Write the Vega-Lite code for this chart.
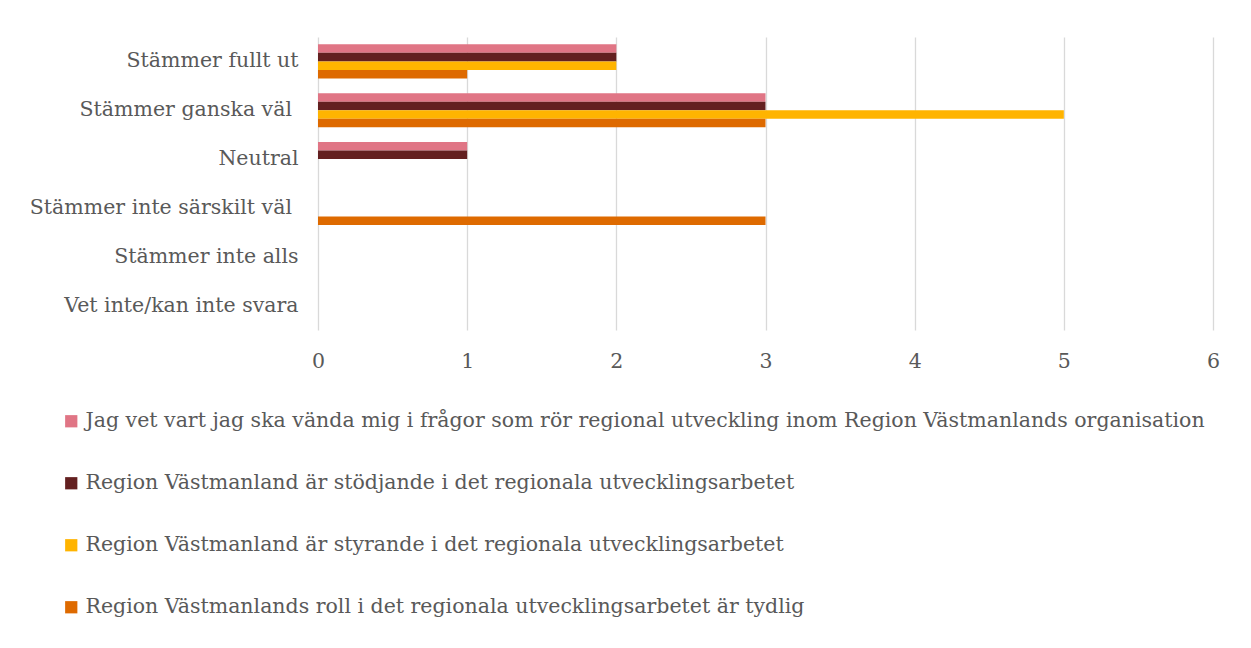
{
  "$schema": "https://vega.github.io/schema/vega-lite/v6.json",
  "autosize": "none",
  "width": 895,
  "height": 293,
  "padding": {"left": 318, "top": 37, "right": 38, "bottom": 318},
  "background": "white",
  "data": {
    "values": [
      {"svar": "Stämmer fullt ut", "serie": "Jag vet vart jag ska vända mig i frågor som rör regional utveckling inom Region Västmanlands organisation", "antal": 2},
      {"svar": "Stämmer fullt ut", "serie": "Region Västmanland är stödjande i det regionala utvecklingsarbetet", "antal": 2},
      {"svar": "Stämmer fullt ut", "serie": "Region Västmanland är styrande i det regionala utvecklingsarbetet", "antal": 2},
      {"svar": "Stämmer fullt ut", "serie": "Region Västmanlands roll i det regionala utvecklingsarbetet är tydlig", "antal": 1},
      {"svar": "Stämmer ganska väl ", "serie": "Jag vet vart jag ska vända mig i frågor som rör regional utveckling inom Region Västmanlands organisation", "antal": 3},
      {"svar": "Stämmer ganska väl ", "serie": "Region Västmanland är stödjande i det regionala utvecklingsarbetet", "antal": 3},
      {"svar": "Stämmer ganska väl ", "serie": "Region Västmanland är styrande i det regionala utvecklingsarbetet", "antal": 5},
      {"svar": "Stämmer ganska väl ", "serie": "Region Västmanlands roll i det regionala utvecklingsarbetet är tydlig", "antal": 3},
      {"svar": "Neutral", "serie": "Jag vet vart jag ska vända mig i frågor som rör regional utveckling inom Region Västmanlands organisation", "antal": 1},
      {"svar": "Neutral", "serie": "Region Västmanland är stödjande i det regionala utvecklingsarbetet", "antal": 1},
      {"svar": "Neutral", "serie": "Region Västmanland är styrande i det regionala utvecklingsarbetet", "antal": 0},
      {"svar": "Neutral", "serie": "Region Västmanlands roll i det regionala utvecklingsarbetet är tydlig", "antal": 0},
      {"svar": "Stämmer inte särskilt väl ", "serie": "Jag vet vart jag ska vända mig i frågor som rör regional utveckling inom Region Västmanlands organisation", "antal": 0},
      {"svar": "Stämmer inte särskilt väl ", "serie": "Region Västmanland är stödjande i det regionala utvecklingsarbetet", "antal": 0},
      {"svar": "Stämmer inte särskilt väl ", "serie": "Region Västmanland är styrande i det regionala utvecklingsarbetet", "antal": 0},
      {"svar": "Stämmer inte särskilt väl ", "serie": "Region Västmanlands roll i det regionala utvecklingsarbetet är tydlig", "antal": 3},
      {"svar": "Stämmer inte alls", "serie": "Jag vet vart jag ska vända mig i frågor som rör regional utveckling inom Region Västmanlands organisation", "antal": 0},
      {"svar": "Stämmer inte alls", "serie": "Region Västmanland är stödjande i det regionala utvecklingsarbetet", "antal": 0},
      {"svar": "Stämmer inte alls", "serie": "Region Västmanland är styrande i det regionala utvecklingsarbetet", "antal": 0},
      {"svar": "Stämmer inte alls", "serie": "Region Västmanlands roll i det regionala utvecklingsarbetet är tydlig", "antal": 0},
      {"svar": "Vet inte/kan inte svara", "serie": "Jag vet vart jag ska vända mig i frågor som rör regional utveckling inom Region Västmanlands organisation", "antal": 0},
      {"svar": "Vet inte/kan inte svara", "serie": "Region Västmanland är stödjande i det regionala utvecklingsarbetet", "antal": 0},
      {"svar": "Vet inte/kan inte svara", "serie": "Region Västmanland är styrande i det regionala utvecklingsarbetet", "antal": 0},
      {"svar": "Vet inte/kan inte svara", "serie": "Region Västmanlands roll i det regionala utvecklingsarbetet är tydlig", "antal": 0}
    ]
  },
  "mark": {"type": "bar"},
  "encoding": {
    "y": {
      "field": "svar",
      "type": "nominal",
      "sort": ["Stämmer fullt ut", "Stämmer ganska väl ", "Neutral", "Stämmer inte särskilt väl ", "Stämmer inte alls", "Vet inte/kan inte svara"],
      "scale": {"paddingInner": 0.3, "paddingOuter": 0.15},
      "axis": {"title": null, "ticks": false, "domain": false, "labelPadding": 20, "labelFontSize": 20.5, "labelColor": "#595959", "labelFont": "DejaVu Serif", "labelLimit": 400, "labelExpr": "slice(datum.value, -1) == ' ' ? datum.value + '\u200b' : datum.value"}
    },
    "yOffset": {
      "field": "serie",
      "type": "nominal",
      "sort": null,
      "scale": {"paddingInner": 0, "paddingOuter": 0}
    },
    "x": {
      "field": "antal",
      "type": "quantitative",
      "scale": {"domain": [0, 6], "nice": false},
      "axis": {"title": null, "values": [0, 1, 2, 3, 4, 5, 6], "labelOverlap": false, "labelFlush": false, "ticks": false, "domain": false, "grid": true, "gridColor": "#d9d9d9", "gridWidth": 1.3, "labelPadding": 21, "labelFontSize": 20.5, "labelColor": "#595959", "labelFont": "DejaVu Serif"}
    },
    "color": {
      "field": "serie",
      "type": "nominal",
      "sort": null,
      "scale": {
        "domain": [
          "Jag vet vart jag ska vända mig i frågor som rör regional utveckling inom Region Västmanlands organisation",
          "Region Västmanland är stödjande i det regionala utvecklingsarbetet",
          "Region Västmanland är styrande i det regionala utvecklingsarbetet",
          "Region Västmanlands roll i det regionala utvecklingsarbetet är tydlig"
        ],
        "range": ["#E07585", "#632020", "#FFB400", "#DE6A00"]
      },
      "legend": {
        "title": null,
        "orient": "none",
        "legendX": -257,
        "legendY": 374,
        "direction": "vertical",
        "symbolType": "square",
        "symbolSize": 150,
        "symbolStrokeWidth": 0,
        "labelFontSize": 20.5,
        "labelColor": "#595959",
        "labelFont": "DejaVu Serif",
        "labelLimit": 1300,
        "labelOffset": 4,
        "rowPadding": 41
      }
    }
  },
  "config": {
    "view": {"stroke": null}
  }
}
